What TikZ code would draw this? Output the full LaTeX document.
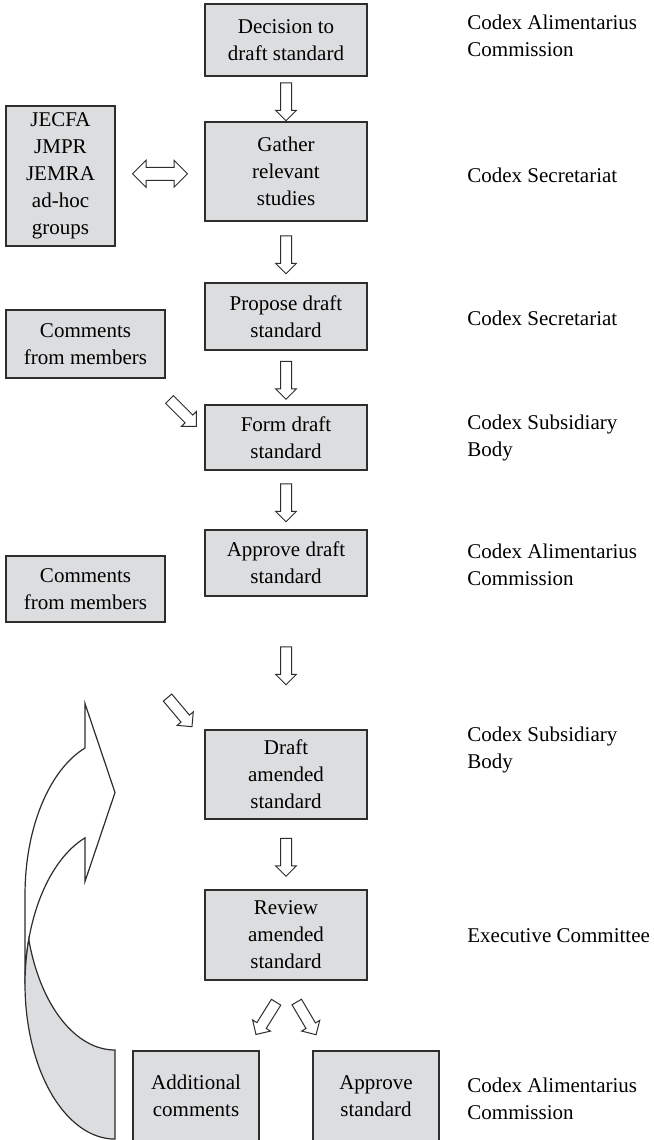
\documentclass[tikz,border=0pt]{standalone}
\usepackage{fontspec}
\setmainfont{Liberation Serif}
\usetikzlibrary{shapes.arrows, calc}
\definecolor{boxgray}{RGB}{220,221,223}
\definecolor{edge}{RGB}{45,45,45}

\begin{document}
\begin{tikzpicture}[x=0.5pt, y=-0.5pt,
    font=\fontsize{10.5pt}{13.5pt}\selectfont,
    box/.style={draw=edge, line width=0.9pt, fill=boxgray, align=center, inner sep=0pt, minimum width=81pt},
    rolelabel/.style={anchor=west, align=left, inner sep=0pt},
    blockarr/.style={single arrow, draw=edge, fill=white, line width=0.5pt, inner xsep=0pt, inner ysep=2.5pt,
      minimum height=19pt, single arrow head extend=2.5pt},
    twoarr/.style={double arrow, draw=edge, fill=white, line width=0.5pt, inner xsep=0pt, inner ysep=3pt,
      minimum height=27.5pt, double arrow head extend=3.5pt}]
  \useasboundingbox (0,0) rectangle (653,1140);

  % main column
  \node[box, minimum height=36pt] (decide) at (286,40) {Decision to\\draft standard};
  \node[box, minimum height=49.5pt] (gather) at (286,171.5) {Gather\\relevant\\studies};
  \node[box, minimum height=33.5pt] (propose) at (286,316.5) {Propose draft\\standard};
  \node[box, minimum height=32.5pt] (form) at (286,437.5) {Form draft\\standard};
  \node[box, minimum height=33pt] (approve) at (286,563) {Approve draft\\standard};
  \node[box, minimum height=44.5pt] (amend) at (286,774.5) {Draft\\amended\\standard};
  \node[box, minimum height=45pt] (review) at (286,935) {Review\\amended\\standard};
  \node[box, minimum width=63pt, minimum height=45pt] (addcom) at (196,1096) {Additional\\comments};
  \node[box, minimum width=63pt, minimum height=45pt] (final) at (376,1096) {Approve\\standard};

  % left side inputs
  \node[box, minimum width=54.5pt, minimum height=70pt] (expert) at (60.5,176) {JECFA\\JMPR\\JEMRA\\ad-hoc\\groups};
  \node[box, minimum width=79.5pt, minimum height=34pt] (comm1) at (85.5,344) {Comments\\from members};
  \node[box, minimum width=79.5pt, minimum height=33pt] (comm2) at (85.5,589) {Comments\\from members};

  % who does it
  \node[rolelabel] (cac1) at (467,36) {Codex Alimentarius\\Commission};
  \node[rolelabel] (sec1) at (467,175) {Codex Secretariat};
  \node[rolelabel] (sec2) at (467,318) {Codex Secretariat};
  \node[rolelabel] (sub1) at (467,438) {Codex Subsidiary\\Body};
  \node[rolelabel] (cac2) at (467,565) {Codex Alimentarius\\Commission};
  \node[rolelabel] (sub2) at (467,750) {Codex Subsidiary\\Body};
  \node[rolelabel] (exec) at (467,936) {Executive Committee};
  \node[rolelabel] (cac3) at (467,1099) {Codex Alimentarius\\Commission};

  % block arrows
  \node[blockarr, rotate=-90] (down1) at ($(decide.south)!.5!(gather.north)$) {};
  \node[blockarr, rotate=-90] (down2) at ($(gather.south)!.5!(propose.north)$) {};
  \node[blockarr, rotate=-90] (down3) at ($(propose.south)!.5!(form.north)$) {};
  \node[blockarr, rotate=-90] (down4) at ($(form.south)!.5!(approve.north)$) {};
  \node[blockarr, rotate=-90] (down5) at ($(approve.south)!.5!(amend.north)$) {};
  \node[blockarr, rotate=-90] (down6) at ($(amend.south)!.5!(review.north)$) {};
  \node[twoarr] (both) at ($(expert.east)!.5!(gather.west)$) {};
  \node[blockarr, rotate=-45] (slant1) at (181,411) {};
  \node[blockarr, rotate=-50] (slant2) at (178,710) {};
  \node[blockarr, rotate=-122] (split1) at (267.5,1016) {};
  \node[blockarr, rotate=-59.5] (split2) at (305,1016) {};

  % curved arrow back up
  \filldraw[fill=white, draw=edge, line width=0.6pt]
    (25,984) arc[start angle=180, end angle=250.5, x radius=90, y radius=155]
    -- (85,881.5) -- (115,792.5) -- (85,703.5) -- (85,748)
    arc[start angle=250.5, end angle=180, x radius=90, y radius=155] -- cycle;
  \filldraw[fill=boxgray, draw=edge, line width=0.6pt]
    (115,1050) arc[start angle=90, end angle=163.3, x radius=90, y radius=155]
    arc[start angle=196.7, end angle=90, x radius=90, y radius=155] -- cycle;
\end{tikzpicture}
\end{document}
